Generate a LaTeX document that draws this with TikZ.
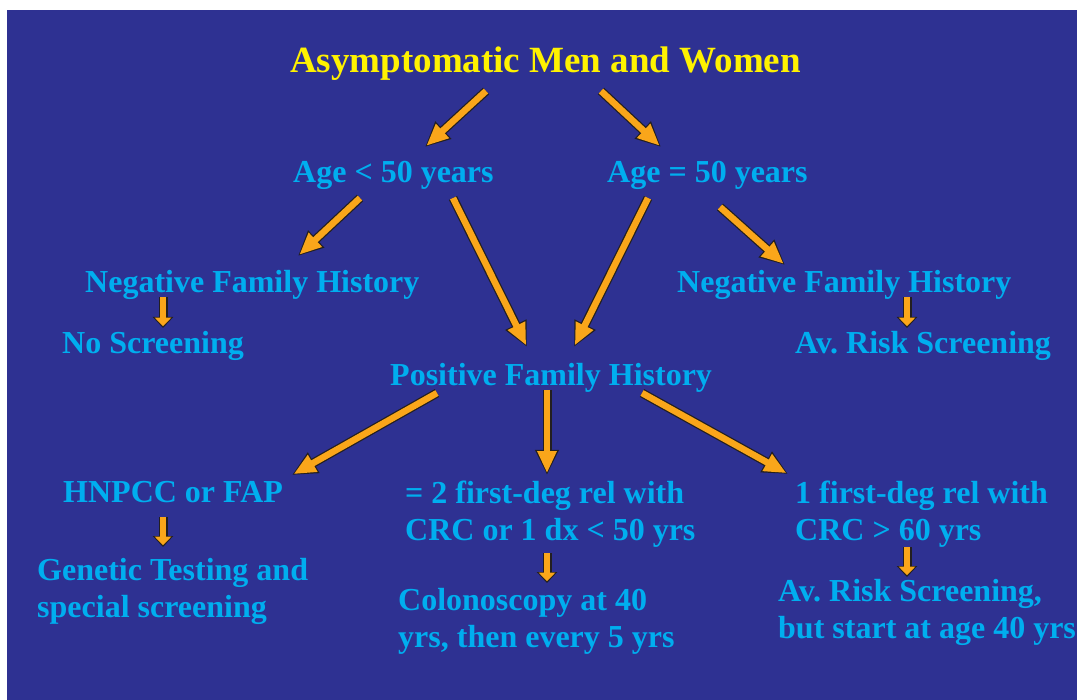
\documentclass[tikz,border=0pt]{standalone}
\usepackage{fontspec}
\setmainfont{Liberation Serif}[BoldFont={Liberation Serif Bold}]
\usetikzlibrary{arrows.meta}

\definecolor{bgblue}{RGB}{46,49,146}
\definecolor{txtcyan}{RGB}{0,174,239}
\definecolor{ttlyellow}{RGB}{255,242,0}
\definecolor{arrorange}{RGB}{250,166,26}
\definecolor{arrline}{RGB}{35,31,32}

\begin{document}
\frenchspacing
\begin{tikzpicture}[x=1pt,y=-1pt]
    \tikzstyle{lbl} = [text=txtcyan, inner sep=0pt, anchor=base west, align=left, font=\fontsize{32}{36.5}\selectfont\bfseries]
    \tikzstyle{ttl} = [lbl, text=ttlyellow, font=\fontsize{37}{42}\selectfont\bfseries]
    \tikzstyle{bigarrow} = [draw=arrorange, line width=6.5pt, shorten >=1.8pt, -{Triangle[length=22pt,width=18pt]},
        preaction={draw=arrline, line width=9pt, shorten >=0pt, -{Triangle[length=25pt,width=22pt]}}]
    \tikzstyle{smallarrow} = [draw=arrorange, line width=6.5pt, shorten >=1.8pt, -{Triangle[length=8.5pt,width=16pt]},
        preaction={draw=arrline, line width=9pt, shorten >=0pt, -{Triangle[length=11pt,width=20pt]}}]

    % Hintergrund
    \useasboundingbox (0,0) rectangle (1077,700);
    \fill[bgblue] (7,10) rectangle (1077,700);

    % Titel
    \node[ttl] (title) at (290,73) {Asymptomatic Men and Women};

    % Alter
    \node[lbl] (age1) at (293,183) {Age < 50 years};
    \node[lbl] (age2) at (607,183) {Age = 50 years};

    % Familienanamnese
    \node[lbl] (negl) at (85,293) {Negative Family History};
    \node[lbl] (negr) at (677,293) {Negative Family History};
    \node[lbl] (noscr) at (62,354) {No Screening};
    \node[lbl] (avrisk) at (795,354) {Av. Risk Screening};
    \node[lbl] (pos) at (390,386) {Positive Family History};

    % untere Reihe (base = letzte Zeile)
    \node[lbl] (hnpcc) at (63,503) {HNPCC or FAP};
    \node[lbl] (two) at (405,540) {= 2 first-deg rel with\\CRC or 1 dx < 50 yrs};
    \node[lbl] (one) at (795,540) {1 first-deg rel with\\CRC > 60 yrs};
    \node[lbl] (genetic) at (37,617) {Genetic Testing and\\special screening};
    \node[lbl] (colono) at (398,647) {Colonoscopy at 40\\yrs, then every 5 yrs};
    \node[lbl] (avlate) at (778,638) {Av. Risk Screening,\\but start at age 40 yrs};

    % Pfeile oben
    \draw[bigarrow] ([shift={(196,18)}]title.base west) -- ([shift={(132,-36)}]age1.base west);
    \draw[bigarrow] ([shift={(311,18)}]title.base west) -- ([shift={(54,-36)}]age2.base west);
    \draw[bigarrow] ([shift={(67,15)}]age1.base west) -- ([shift={(213,-37)}]negl.base west);
    \draw[bigarrow] ([shift={(160,15)}]age1.base west) -- ([shift={(137,-39)}]pos.base west);
    \draw[bigarrow] ([shift={(41,15)}]age2.base west) -- ([shift={(184,-39)}]pos.base west);
    \draw[bigarrow] ([shift={(113,24)}]age2.base west) -- ([shift={(108,-28)}]negr.base west);

    % Pfeile unten
    \draw[bigarrow] ([shift={(47,7)}]pos.base west) -- ([shift={(229,-28)}]hnpcc.base west);
    \draw[bigarrow] ([shift={(157,4)}]pos.base west) -- ([shift={(142,-65)}]two.base west);
    \draw[bigarrow] ([shift={(252,7)}]pos.base west) -- ([shift={(-7,-66)}]one.base west);

    % kurze Pfeile
    \draw[smallarrow] ([shift={(78,4)}]negl.base west) -- ([shift={(101,-26)}]noscr.base west);
    \draw[smallarrow] ([shift={(230,4)}]negr.base west) -- ([shift={(112,-26)}]avrisk.base west);
    \draw[smallarrow] ([shift={(100,14)}]hnpcc.base west) -- ([shift={(126,-70)}]genetic.base west);
    \draw[smallarrow] ([shift={(142,13)}]two.base west) -- ([shift={(149,-64)}]colono.base west);
    \draw[smallarrow] ([shift={(112,7)}]one.base west) -- ([shift={(129,-61)}]avlate.base west);
\end{tikzpicture}
\end{document}
